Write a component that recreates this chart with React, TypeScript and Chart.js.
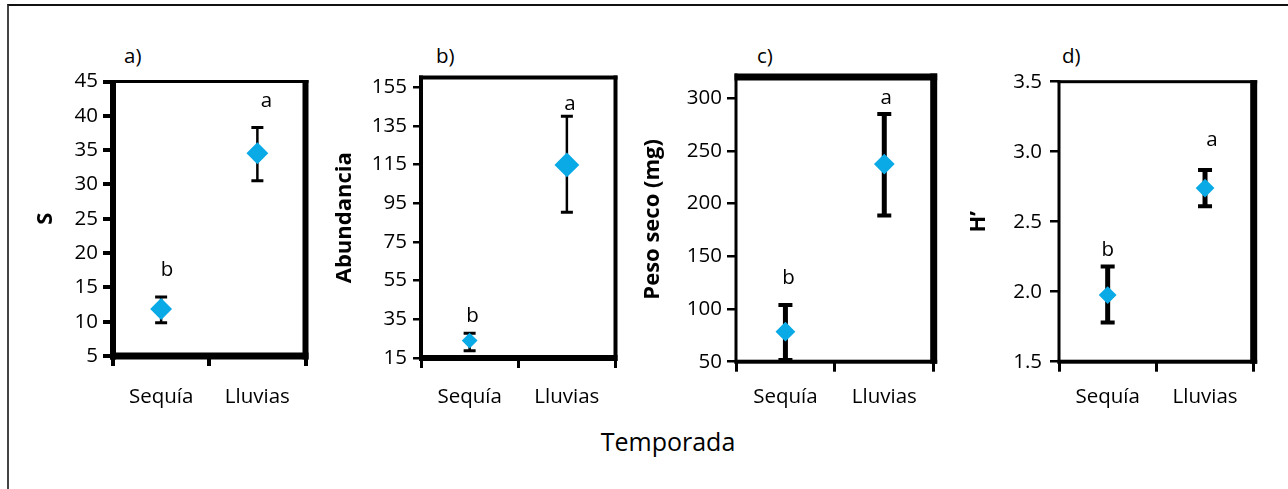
import React, { useEffect, useRef } from 'react';
import { Chart, registerables } from 'chart.js';

Chart.register(...registerables);

const FONT = "'Open Sans', 'Noto Sans', sans-serif";
Chart.defaults.font.family = FONT;

// ---- data ----
const categories = ['Sequía', 'Lluvias'];
const panelNames = ['a)', 'b)', 'c)', 'd)'];
const sigLetters = ['b', 'a'];

const sMean = [11.85, 34.55];
const sHigh = [13.6, 38.3];
const sLow = [9.85, 30.55];
const sLetterY = [17.5, 42.1];
const sTicks = [5, 10, 15, 20, 25, 30, 35, 40, 45];

const abMean = [24, 114.8];
const abHigh = [27.8, 140];
const abLow = [18.8, 90.3];
const abLetterY = [36.7, 146.3];
const abTicks = [15, 35, 55, 75, 95, 115, 135, 155];

const pesoMean = [78.5, 237.4];
const pesoHigh = [103.8, 285];
const pesoLow = [51.6, 188.6];
const pesoLetterY = [129.2, 300];
const pesoTicks = [50, 100, 150, 200, 250, 300];

const hMean = [1.976, 2.74];
const hHigh = [2.18, 2.87];
const hLow = [1.78, 2.61];
const hLetterY = [2.3, 3.08];
const hTicks = [1.5, 2.0, 2.5, 3.0, 3.5];

const BLUE = '#0AAAE6';
const TOP = 30;
const HEIGHT = 390;

const panels = [
  {
    name: panelNames[0], title: 'S', mean: sMean, high: sHigh, low: sLow, letterY: sLetterY, ticks: sTicks,
    min: 5, max: 45, decimals: 0,
    plot: { l: 113, r: 305.5, t: 81.5, b: 356 }, canvasX: 20, canvasW: 300,
    border: { t: 3, r: 6, b: 7, l: 6 }, yTickLen: 10, yTickPad: 5, yTickW: 4, xTickW: 4,
    errW: 2.5, capW: 3, capHalf: 6, radius: [9.5, 9.5], letterDx: [6, 9], titleCenter: 46, labelX: 124,
  },
  {
    name: panelNames[1], title: 'Abundancia', mean: abMean, high: abHigh, low: abLow, letterY: abLetterY, ticks: abTicks,
    min: 15, max: 160, decimals: 0,
    plot: { l: 421, r: 615.5, t: 77.5, b: 358 }, canvasX: 325, canvasW: 305,
    border: { t: 4, r: 4, b: 6, l: 4 }, yTickLen: 8, yTickPad: 6, yTickW: 2.5, xTickW: 3,
    errW: 2.5, capW: 3, capHalf: 6, radius: [6.5, 11], letterDx: [3, 3], titleCenter: 345, labelX: 436,
  },
  {
    name: panelNames[2], title: 'Peso seco (mg)', mean: pesoMean, high: pesoHigh, low: pesoLow, letterY: pesoLetterY, ticks: pesoTicks,
    min: 50, max: 320, decimals: 0,
    plot: { l: 736, r: 933.7, t: 77, b: 361.7 }, canvasX: 635, canvasW: 315,
    border: { t: 7, r: 7, b: 4, l: 3 }, yTickLen: 9, yTickPad: 5, yTickW: 2.5, xTickW: 3,
    errW: 5, capW: 4, capHalf: 7, radius: [8.5, 9], letterDx: [3, 2], titleCenter: 653, labelX: 757,
  },
  {
    name: panelNames[3], title: 'H’', mean: hMean, high: hHigh, low: hLow, letterY: hLetterY, ticks: hTicks,
    min: 1.5, max: 3.5, decimals: 1,
    plot: { l: 1059, r: 1253.7, t: 81.7, b: 361.7 }, canvasX: 955, canvasW: 325,
    border: { t: 3, r: 7, b: 4, l: 3 }, yTickLen: 9, yTickPad: 8, yTickW: 2.5, xTickW: 3,
    errW: 5, capW: 4, capHalf: 7, radius: [7.5, 8], letterDx: [0, 7], titleCenter: 979, labelX: 1062,
  },
];

const TICK_SIZE = 20.5;
const TITLE_SIZE = 22;

function Panel({ cfg }: { cfg: any }) {
  const ref = useRef<HTMLCanvasElement>(null);
  useEffect(() => {
    const yW = cfg.plot.l - cfg.canvasX;
    const xH = TOP + HEIGHT - cfg.plot.b;
    const padTop = cfg.plot.t - TOP;
    const padRight = cfg.canvasX + cfg.canvasW - cfg.plot.r;
    const titleLH = TITLE_SIZE * 1.2;
    const tickLH = TICK_SIZE * 1.2;
    const xLabelCenter = 396.7;
    const xPad = xLabelCenter - cfg.plot.b - 10 - tickLH / 2;

    const errorBars = {
      id: 'errorBars',
      beforeDatasetsDraw(chart: any) {
        const { ctx, scales } = chart;
        ctx.save();
        ctx.strokeStyle = '#000';
        for (let i = 0; i < cfg.mean.length; i++) {
          const x = scales.x.getPixelForValue(i);
          const yh = scales.y.getPixelForValue(cfg.high[i]);
          const yl = scales.y.getPixelForValue(cfg.low[i]);
          ctx.lineWidth = cfg.errW;
          ctx.beginPath();
          ctx.moveTo(x, yh);
          ctx.lineTo(x, yl);
          ctx.stroke();
          ctx.lineWidth = cfg.capW;
          ctx.beginPath();
          ctx.moveTo(x - cfg.capHalf, yh);
          ctx.lineTo(x + cfg.capHalf, yh);
          ctx.moveTo(x - cfg.capHalf, yl);
          ctx.lineTo(x + cfg.capHalf, yl);
          ctx.stroke();
        }
        ctx.restore();
      },
    };

    const letters = {
      id: 'letters',
      afterDatasetsDraw(chart: any) {
        const { ctx, scales } = chart;
        ctx.save();
        ctx.fillStyle = '#000';
        ctx.font = `${TICK_SIZE}px ${FONT}`;
        ctx.textAlign = 'center';
        ctx.textBaseline = 'middle';
        for (let i = 0; i < sigLetters.length; i++) {
          const x = scales.x.getPixelForValue(i) + cfg.letterDx[i];
          const y = scales.y.getPixelForValue(cfg.letterY[i]);
          ctx.fillText(sigLetters[i], x, y);
        }
        ctx.restore();
      },
    };

    const frame = {
      id: 'frame',
      afterDraw(chart: any) {
        const { ctx, chartArea } = chart;
        const { left: l, right: r, top: t, bottom: b } = chartArea;
        const w = cfg.border;
        ctx.save();
        ctx.fillStyle = '#000';
        ctx.fillRect(l - w.l / 2, t - w.t / 2, r - l + w.l / 2 + w.r / 2, w.t);
        ctx.fillRect(l - w.l / 2, b - w.b / 2, r - l + w.l / 2 + w.r / 2, w.b);
        ctx.fillRect(l - w.l / 2, t - w.t / 2, w.l, b - t + w.t / 2 + w.b / 2);
        ctx.fillRect(r - w.r / 2, t - w.t / 2, w.r, b - t + w.t / 2 + w.b / 2);
        ctx.restore();
      },
    };

    const chart = new Chart(ref.current as HTMLCanvasElement, {
      type: 'line',
      data: {
        labels: categories,
        datasets: [
          {
            data: cfg.mean,
            showLine: false,
            pointStyle: 'rectRot',
            pointRadius: cfg.radius,
            pointBackgroundColor: BLUE,
            pointBorderColor: BLUE,
            pointBorderWidth: 2,
            borderColor: BLUE,
            backgroundColor: BLUE,
          },
        ],
      },
      options: {
        animation: false,
        responsive: false,
        devicePixelRatio: 1,
        layout: { padding: { top: padTop, right: padRight, left: 0, bottom: 0 } },
        plugins: { legend: { display: false }, tooltip: { enabled: false }, title: { display: false } },
        scales: {
          x: {
            type: 'category',
            offset: true,
            grid: { offset: true, drawOnChartArea: false, drawTicks: true, tickLength: 10, lineWidth: cfg.xTickW, color: '#000' },
            border: { display: false },
            ticks: { padding: xPad, color: '#000', font: { size: TICK_SIZE }, maxRotation: 0, autoSkip: false },
            afterFit: (s: any) => { s.height = xH; },
          },
          y: {
            type: 'linear',
            min: cfg.min,
            max: cfg.max,
            afterBuildTicks: (s: any) => { s.ticks = cfg.ticks.map((v: number) => ({ value: v })); },
            grid: { drawOnChartArea: false, drawTicks: true, tickLength: cfg.yTickLen, lineWidth: cfg.yTickW, color: '#000' },
            border: { display: false },
            ticks: {
              padding: cfg.yTickPad,
              color: '#000',
              font: { size: TICK_SIZE },
              callback: (v: any) => Number(v).toFixed(cfg.decimals),
            },
            title: {
              display: true,
              text: cfg.title,
              color: '#000',
              font: { size: TITLE_SIZE, weight: 'bold' },
              padding: { top: cfg.titleCenter - cfg.canvasX - titleLH / 2, bottom: 0 },
            },
            afterFit: (s: any) => { s.width = yW; },
          },
        },
      },
      plugins: [errorBars, letters, frame],
    } as any);
    return () => chart.destroy();
  }, [cfg]);
  return (
    <canvas
      ref={ref}
      width={cfg.canvasW}
      height={HEIGHT}
      style={{ position: 'absolute', left: cfg.canvasX, top: TOP, width: cfg.canvasW, height: HEIGHT }}
    />
  );
}

export default function App() {
  return (
    <div style={{ position: 'absolute', left: 0, top: 0, width: 1288, height: 489, background: '#fff', overflow: 'hidden', fontFamily: FONT }}>
      <div style={{ position: 'absolute', left: 7, top: 4, right: 0, bottom: 0, borderTop: '2px solid #111', borderLeft: '2px solid #444' }} />
      {panels.map((p) => (
        <div key={p.name} style={{ position: 'absolute', left: p.labelX, top: 42, fontSize: TICK_SIZE, lineHeight: '26px', color: '#000' }}>
          {p.name}
        </div>
      ))}
      {panels.map((p) => (
        <Panel key={p.name} cfg={p} />
      ))}
      <div style={{ position: 'absolute', left: 518, width: 300, top: 424, textAlign: 'center', fontSize: 25, lineHeight: '34px', color: '#000' }}>
        Temporada
      </div>
    </div>
  );
}
